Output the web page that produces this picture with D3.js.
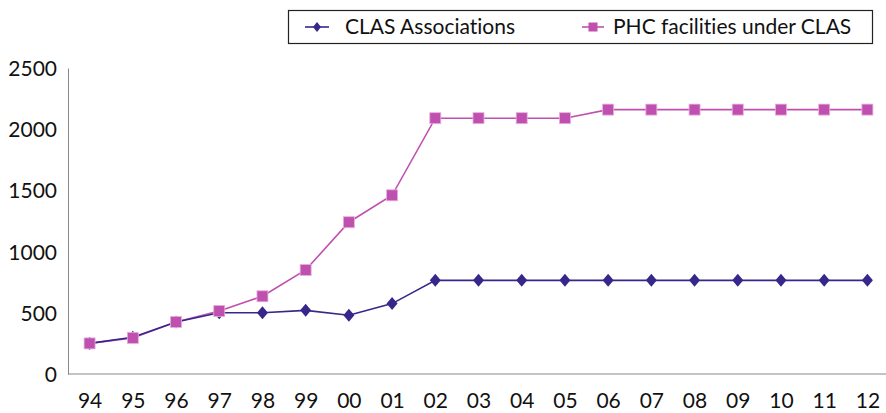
<!DOCTYPE html>
<html>
<head>
<meta charset="utf-8">
<script src="https://cdn.jsdelivr.net/npm/d3@7"></script>
<style>
  body { margin: 0; background: #fff; }
  text { font-family: Lato, "Open Sans", sans-serif; fill: #111; font-variant-ligatures: none; }
</style>
</head>
<body>
<div id="chart"></div>
<script>
var width = 886, height = 413;

// data
var years = ['94','95','96','97','98','99','00','01','02','03','04','05','06','07','08','09','10','11','12'];
var clasAssoc = [250, 300, 425, 500, 500, 520, 480, 575, 765, 765, 765, 765, 765, 765, 765, 765, 765, 765, 765];
var phcFacilities = [250, 295, 425, 515, 635, 850, 1240, 1460, 2090, 2090, 2090, 2090, 2160, 2160, 2160, 2160, 2160, 2160, 2160];
var yTicks = [0, 500, 1000, 1500, 2000, 2500];

var plotL = 68, plotR = 889, plotT = 68, plotB = 374;

var svg = d3.select('#chart').append('svg')
    .attr('width', width)
    .attr('height', height);

var x = d3.scalePoint()
    .domain(years)
    .range([plotL, plotR])
    .padding(0.5);

var y = d3.scaleLinear()
    .domain([0, 2500])
    .range([plotB, plotT]);

// axes
var yAxis = svg.append('g')
    .attr('transform', 'translate(' + plotL + ',0)')
    .call(d3.axisLeft(y).tickValues(yTicks).tickFormat(d3.format('d')).tickSize(0).tickPadding(11));
yAxis.select('.domain').attr('stroke', '#888');
yAxis.selectAll('text').style('font-size', '21px').attr('dy', '0.36em');

var xAxis = svg.append('g')
    .attr('transform', 'translate(0,' + plotB + ')')
    .call(d3.axisBottom(x).tickSize(0).tickPadding(19));
xAxis.select('.domain').attr('stroke', '#888').attr('d', 'M' + plotL + ',0H' + plotR);
xAxis.selectAll('text').style('font-size', '21px');

var line = d3.line()
    .x(function(d, i){ return x(years[i]) })
    .y(function(d){ return y(d) });

var pink = '#c050b0', navy = '#35288a';

// PHC facilities
svg.append('path')
    .attr('d', line(phcFacilities))
    .attr('stroke', pink)
    .attr('stroke-width', 1.6)
    .attr('fill', 'none');

// CLAS associations
svg.append('path')
    .attr('d', line(clasAssoc))
    .attr('stroke', navy)
    .attr('stroke-width', 1.6)
    .attr('fill', 'none');

svg.selectAll('.diamond')
    .data(clasAssoc)
    .enter().append('path')
    .attr('class', 'diamond')
    .attr('d', 'M0,-6.5L5.5,0L0,6.5L-5.5,0Z')
    .attr('transform', function(d, i){ return 'translate(' + x(years[i]) + ',' + y(d) + ')' })
    .attr('fill', navy);

svg.selectAll('.square')
    .data(phcFacilities)
    .enter().append('rect')
    .attr('class', 'square')
    .attr('x', function(d, i){ return x(years[i]) - 5.5 })
    .attr('y', function(d){ return y(d) - 5.5 })
    .attr('width', 11)
    .attr('height', 11)
    .attr('fill', pink)
    .attr('stroke', '#e6b0dc')
    .attr('stroke-width', 0.8);

// legend
var legend = svg.append('g');
legend.append('rect')
    .attr('x', 288.5).attr('y', 10.5)
    .attr('width', 584).attr('height', 33)
    .attr('fill', '#fff')
    .attr('stroke', '#222')
    .attr('stroke-width', 1.2);

legend.append('line').attr('x1', 305).attr('x2', 329).attr('y1', 27).attr('y2', 27)
    .attr('stroke', navy).attr('stroke-width', 1.6);
legend.append('path').attr('d', 'M0,-5L4,0L0,5L-4,0Z')
    .attr('transform', 'translate(317,27)').attr('fill', navy);
legend.append('text').attr('x', 345).attr('y', 27).attr('dy', '0.35em')
    .style('font-size', '21px').text('CLAS Associations');

legend.append('line').attr('x1', 582).attr('x2', 604).attr('y1', 27).attr('y2', 27)
    .attr('stroke', pink).attr('stroke-width', 1.6);
legend.append('rect').attr('x', 588.5).attr('y', 22.5).attr('width', 9).attr('height', 9)
    .attr('fill', pink);
legend.append('text').attr('x', 613).attr('y', 27).attr('dy', '0.35em')
    .style('font-size', '21px').text('PHC facilities under CLAS');
</script>
</body>
</html>
